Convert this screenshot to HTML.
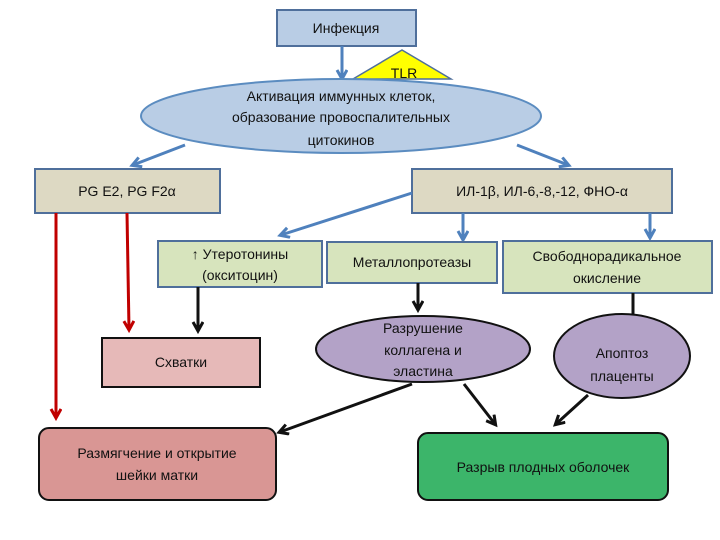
<!DOCTYPE html>
<html><head><meta charset="utf-8"><style>
html,body{margin:0;padding:0;background:#fff;}
svg{display:block}
text{font-family:"Liberation Sans",sans-serif;font-size:14px;fill:#111;text-anchor:middle;}
</style></head><body>
<svg width="720" height="540" viewBox="0 0 720 540" xmlns="http://www.w3.org/2000/svg">
<defs>
<marker id="ab" markerWidth="14" markerHeight="14" refX="9" refY="6" orient="auto" markerUnits="userSpaceOnUse"><path d="M1,1 L10,6 L1,11" fill="none" stroke="#4f81bd" stroke-width="3"/></marker>
<marker id="ak" markerWidth="14" markerHeight="14" refX="9" refY="6" orient="auto" markerUnits="userSpaceOnUse"><path d="M1,1 L10,6 L1,11" fill="none" stroke="#111" stroke-width="3"/></marker>
<marker id="ar" markerWidth="14" markerHeight="14" refX="9" refY="6" orient="auto" markerUnits="userSpaceOnUse"><path d="M1,1 L10,6 L1,11" fill="none" stroke="#c00000" stroke-width="3"/></marker>
</defs>
<rect x="277" y="10" width="139" height="36" fill="#b9cde5" stroke="#4f6f9b" stroke-width="2"/>
<text x="346" y="33">Инфекция</text>
<line x1="342" y1="46" x2="342" y2="78" stroke="#4f81bd" stroke-width="3" marker-end="url(#ab)"/>
<polygon points="402,50 451,79 353,79" fill="#ffff00" stroke="#4f6f9b" stroke-width="1.5"/>
<text x="404" y="78">TLR</text>
<ellipse cx="341" cy="116" rx="200" ry="37" fill="#b9cde5" stroke="#5b8cc0" stroke-width="2"/>
<text x="341" y="101">Активация иммунных клеток,</text>
<text x="341" y="122">образование провоспалительных</text>
<text x="341" y="145">цитокинов</text>
<line x1="185" y1="145" x2="133" y2="165" stroke="#4f81bd" stroke-width="3" marker-end="url(#ab)"/>
<line x1="517" y1="145" x2="568" y2="165" stroke="#4f81bd" stroke-width="3" marker-end="url(#ab)"/>
<rect x="35" y="169" width="185" height="44" fill="#ddd9c3" stroke="#4f6f9b" stroke-width="2"/>
<text x="127" y="196">PG E2, PG F2α</text>
<rect x="412" y="169" width="260" height="44" fill="#ddd9c3" stroke="#4f6f9b" stroke-width="2"/>
<text x="542" y="196">ИЛ-1β, ИЛ-6,-8,-12, ФНО-α</text>
<line x1="412" y1="193" x2="281" y2="235" stroke="#4f81bd" stroke-width="3" marker-end="url(#ab)"/>
<line x1="463" y1="213" x2="463" y2="239" stroke="#4f81bd" stroke-width="3" marker-end="url(#ab)"/>
<line x1="650" y1="213" x2="650" y2="237" stroke="#4f81bd" stroke-width="3" marker-end="url(#ab)"/>
<rect x="158" y="241" width="164" height="46" fill="#d7e4bd" stroke="#4f6f9b" stroke-width="2"/>
<text x="240" y="259">↑ Утеротонины</text>
<text x="240" y="280">(окситоцин)</text>
<rect x="327" y="242" width="170" height="41" fill="#d7e4bd" stroke="#4f6f9b" stroke-width="2"/>
<text x="412" y="267">Металлопротеазы</text>
<rect x="503" y="241" width="209" height="52" fill="#d7e4bd" stroke="#4f6f9b" stroke-width="2"/>
<text x="607" y="261">Свободнорадикальное</text>
<text x="607" y="283">окисление</text>
<line x1="56" y1="213" x2="56" y2="417" stroke="#c00000" stroke-width="3" marker-end="url(#ar)"/>
<line x1="127" y1="213" x2="129" y2="329" stroke="#c00000" stroke-width="3" marker-end="url(#ar)"/>
<line x1="198" y1="287" x2="198" y2="330" stroke="#111" stroke-width="3" marker-end="url(#ak)"/>
<line x1="418" y1="283" x2="418" y2="309" stroke="#111" stroke-width="3" marker-end="url(#ak)"/>
<line x1="633" y1="293" x2="633" y2="325" stroke="#111" stroke-width="3" marker-end="url(#ak)"/>
<rect x="102" y="338" width="158" height="49" fill="#e6b9b8" stroke="#111" stroke-width="2"/>
<text x="181" y="367">Схватки</text>
<ellipse cx="423" cy="349" rx="107" ry="33" fill="#b3a2c7" stroke="#111" stroke-width="2"/>
<text x="423" y="333">Разрушение</text>
<text x="423" y="355">коллагена и</text>
<text x="423" y="376">эластина</text>
<ellipse cx="622" cy="356" rx="68" ry="42" fill="#b3a2c7" stroke="#111" stroke-width="2"/>
<text x="622" y="358">Апоптоз</text>
<text x="622" y="381">плаценты</text>
<line x1="412" y1="384" x2="280" y2="432" stroke="#111" stroke-width="3" marker-end="url(#ak)"/>
<line x1="464" y1="384" x2="495" y2="424" stroke="#111" stroke-width="3" marker-end="url(#ak)"/>
<line x1="588" y1="395" x2="556" y2="424" stroke="#111" stroke-width="3" marker-end="url(#ak)"/>
<rect x="39" y="428" width="237" height="72" rx="10" fill="#d99694" stroke="#111" stroke-width="2"/>
<text x="157" y="458">Размягчение и открытие</text>
<text x="157" y="480">шейки матки</text>
<rect x="418" y="433" width="250" height="67" rx="10" fill="#3cb56a" stroke="#111" stroke-width="2"/>
<text x="543" y="472">Разрыв плодных оболочек</text>
</svg>
</body></html>
